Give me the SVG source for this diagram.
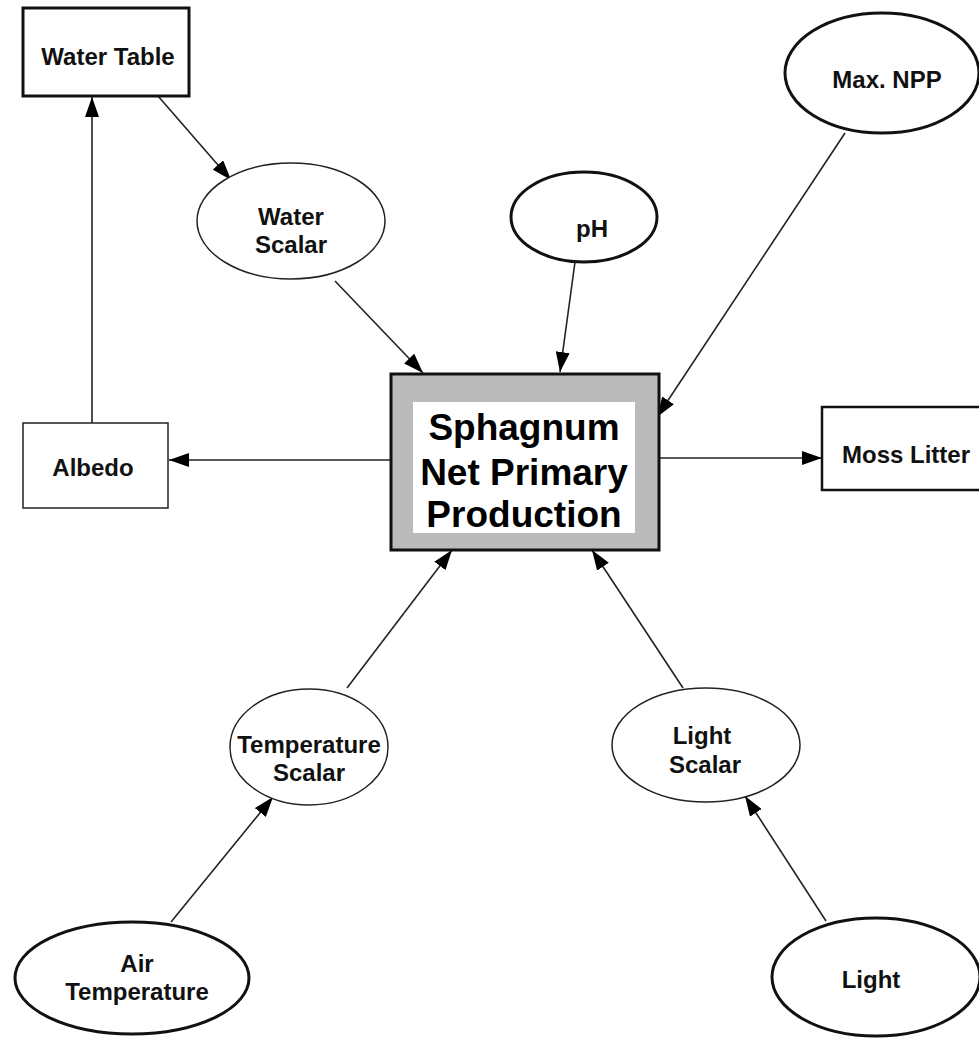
<svg xmlns="http://www.w3.org/2000/svg" width="979" height="1038" viewBox="0 0 979 1038">
<style>
.lbl{font-family:"Liberation Sans",Arial,sans-serif;font-weight:bold;font-size:24px;fill:#111;text-anchor:middle}
.big{font-family:"Liberation Sans",Arial,sans-serif;font-weight:bold;font-size:37px;fill:#000;text-anchor:middle}
.thin{fill:#fff;stroke:#222;stroke-width:1.5}
.thick{fill:#fff;stroke:#111;stroke-width:3}
.con{stroke:#222;stroke-width:1.6;fill:none;marker-end:url(#ah)}
</style>
<defs>
<marker id="ah" markerUnits="userSpaceOnUse" markerWidth="22" markerHeight="14" refX="20" refY="7" orient="auto">
<path d="M0,0 L20,7 L0,14 Z" fill="#000"/>
</marker>
</defs>
<rect width="979" height="1038" fill="#fff"/>
<g id="connectors">
<line class="con" x1="158" y1="96" x2="231" y2="180"/>
<line class="con" x1="92" y1="423" x2="92" y2="97"/>
<line class="con" x1="390" y1="460" x2="169" y2="460"/>
<line class="con" x1="660" y1="458" x2="822" y2="458"/>
<line class="con" x1="335" y1="281" x2="423" y2="373"/>
<line class="con" x1="575" y1="262" x2="560" y2="372"/>
<line class="con" x1="845" y1="133" x2="657" y2="417"/>
<line class="con" x1="347" y1="688" x2="452" y2="550"/>
<line class="con" x1="683" y1="688" x2="592" y2="550"/>
<line class="con" x1="171" y1="922" x2="273" y2="797"/>
<line class="con" x1="826" y1="921" x2="745" y2="796"/>
</g>
<g id="water-table">
<rect x="23" y="8" width="166" height="88" fill="#fff" stroke="#111" stroke-width="3"/>
<text class="lbl" x="108" y="65">Water Table</text>
</g>
<g id="water-scalar">
<ellipse class="thin" cx="291" cy="221" rx="94" ry="58"/>
<text class="lbl" x="291" y="225">Water</text>
<text class="lbl" x="291" y="253">Scalar</text>
</g>
<g id="ph">
<ellipse class="thick" cx="584" cy="217" rx="73" ry="45"/>
<text class="lbl" x="592" y="237">pH</text>
</g>
<g id="max-npp">
<ellipse class="thick" cx="882" cy="73" rx="97" ry="60"/>
<text class="lbl" x="887" y="88">Max. NPP</text>
</g>
<g id="albedo">
<rect x="23" y="423" width="145" height="85" fill="#fff" stroke="#222" stroke-width="1.5"/>
<text class="lbl" x="93" y="476">Albedo</text>
</g>
<g id="moss-litter">
<rect x="822" y="407" width="170" height="83" fill="#fff" stroke="#111" stroke-width="2.5"/>
<text class="lbl" x="906" y="463">Moss Litter</text>
</g>
<g id="sphagnum-npp">
<rect x="391" y="374" width="268" height="176" fill="#bbb" stroke="#111" stroke-width="3"/>
<rect x="413" y="402" width="222" height="131" fill="#fff"/>
<text class="big" x="524" y="440">Sphagnum</text>
<text class="big" x="524" y="485">Net Primary</text>
<text class="big" x="524" y="527">Production</text>
</g>
<g id="temperature-scalar">
<ellipse class="thin" cx="309" cy="747" rx="79" ry="58"/>
<text class="lbl" x="309" y="753">Temperature</text>
<text class="lbl" x="309" y="781">Scalar</text>
</g>
<g id="light-scalar">
<ellipse class="thin" cx="706" cy="745" rx="94" ry="57"/>
<text class="lbl" x="702" y="744">Light</text>
<text class="lbl" x="705" y="773">Scalar</text>
</g>
<g id="air-temperature">
<ellipse class="thick" cx="132" cy="978" rx="117" ry="56"/>
<text class="lbl" x="137" y="972">Air</text>
<text class="lbl" x="137" y="1000">Temperature</text>
</g>
<g id="light">
<ellipse class="thick" cx="876" cy="977" rx="104" ry="59"/>
<text class="lbl" x="871" y="988">Light</text>
</g>
</svg>
